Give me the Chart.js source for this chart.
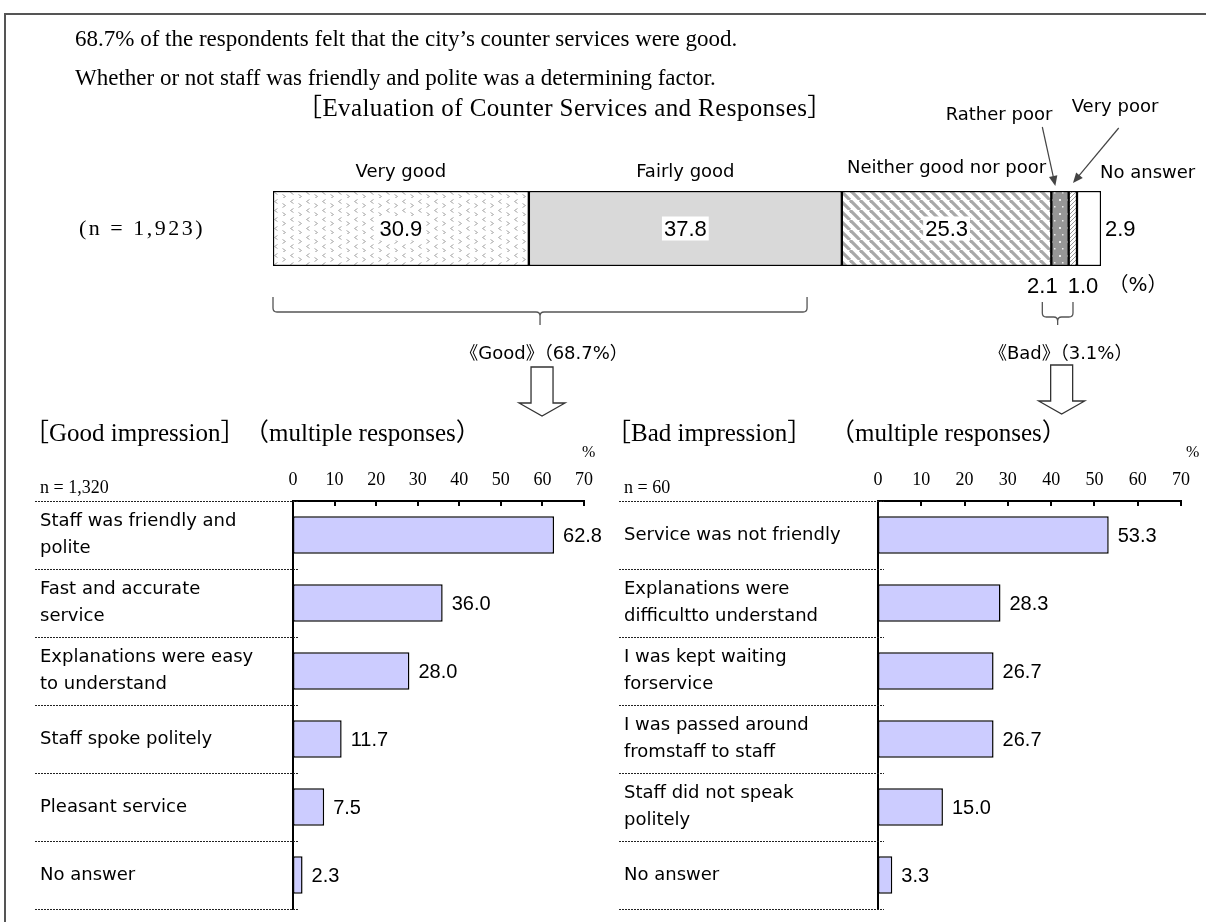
<!DOCTYPE html>
<html>
<head>
<meta charset="utf-8">
<script src="https://cdn.jsdelivr.net/npm/chart.js@4.4.1/dist/chart.umd.min.js"></script>
<style>
  body { margin: 0; background: #fff; }
  #page { position: relative; width: 1206px; height: 922px; overflow: hidden; background: #fff; }
  .txt { position: absolute; white-space: nowrap; line-height: 1; color: #000;
         font-family: 'Liberation Serif', 'Times New Roman', 'Noto Sans CJK JP', serif; }
  canvas { position: absolute; }
</style>
</head>
<body>
<div id="page">
  <div style="position:absolute;left:4px;top:13px;width:1210px;height:920px;border-left:2px solid #555;border-top:2px solid #555"></div>

  <canvas id="topChart" width="1206" height="430" style="left:0;top:0"></canvas>
  <canvas id="goodChart" width="603" height="482" style="left:0;top:440px"></canvas>
  <canvas id="badChart" width="603" height="482" style="left:603px;top:440px"></canvas>

  <div class="txt" style="left:75px;top:27px;font-size:23px">68.7% of the respondents felt that the city’s counter services were good.</div>
  <div class="txt" style="left:75px;top:66px;font-size:23px">Whether or not staff was friendly and polite was a determining factor.</div>
  <div class="txt" style="left:297px;top:95px;font-size:25px;letter-spacing:0.4px">［Evaluation of Counter Services and Responses］</div>
  <div class="txt" style="left:79px;top:217px;font-size:22px;letter-spacing:2.5px">(n = 1,923)</div>

  <div class="txt" style="left:24px;top:420px;font-size:25px">［Good impression］</div>
  <div class="txt" style="left:244px;top:420px;font-size:25px">（multiple responses）</div>
  <div class="txt" style="left:582px;top:444px;font-size:16px">%</div>
  <div class="txt" style="left:606px;top:420px;font-size:25px">［Bad impression］</div>
  <div class="txt" style="left:830px;top:420px;font-size:25px">（multiple responses）</div>
  <div class="txt" style="left:1186px;top:444px;font-size:16px">%</div>
</div>

<script>
    // overall evaluation (n = 1,923)
    var ratingLabels = ['Very good', 'Fairly good', 'Neither good nor poor', 'Rather poor', 'Very poor', 'No answer'];
    var ratingValues = [30.9, 37.8, 25.3, 2.1, 1.0, 2.9];

    // good impression (n = 1,320)
    var goodLabels = [['Staff was friendly and', 'polite'], ['Fast and accurate', 'service'], ['Explanations were easy', 'to understand'], 'Staff spoke politely', 'Pleasant service', 'No answer'];
    var goodValues = [62.8, 36.0, 28.0, 11.7, 7.5, 2.3];

    // bad impression (n = 60)
    var badLabels = ['Service was not friendly', ['Explanations were', 'difficultto understand'], ['I was kept waiting', 'forservice'], ['I was passed around', 'fromstaff to staff'], ['Staff did not speak', 'politely'], 'No answer'];
    var badValues = [53.3, 28.3, 26.7, 26.7, 15.0, 3.3];

    var axisMax = 70;
    var axisStep = 10;

    var SANS = '"DejaVu Sans", "Noto Sans CJK JP", sans-serif';
    var NUM = '"Liberation Sans", Arial, sans-serif';
    var SERIF = '"Liberation Serif", "Times New Roman", serif';

    Chart.defaults.color = '#000';

    // --- fill patterns for the stacked bar ---
    function makePattern(w, h, draw) {
        var c = document.createElement('canvas');
        c.width = w; c.height = h;
        var g = c.getContext('2d');
        draw(g, w, h);
        return document.getElementById('topChart').getContext('2d').createPattern(c, 'repeat');
    }

    var chevrons = makePattern(16, 18, function (g) {
        g.fillStyle = '#fff'; g.fillRect(0, 0, 16, 18);
        g.strokeStyle = '#aaa'; g.lineWidth = 1;
        function lt(x, y) { g.beginPath(); g.moveTo(x + 3, y); g.lineTo(x, y + 2); g.lineTo(x + 3, y + 4); g.stroke(); }
        function gt(x, y) { g.beginPath(); g.moveTo(x, y); g.lineTo(x + 3, y + 2); g.lineTo(x, y + 4); g.stroke(); }
        lt(2.5, 1.5); gt(10.5, 5.5); lt(2.5, 10.5); gt(10.5, 14.5);
    });
    var stripes = makePattern(10, 10, function (g) {
        g.fillStyle = '#fff'; g.fillRect(0, 0, 10, 10);
        g.strokeStyle = '#a8a8a8'; g.lineWidth = 3.2;
        [-10, 0, 10].forEach(function (o) {
            g.beginPath(); g.moveTo(o, 0); g.lineTo(o + 10, 10); g.stroke();
        });
    });
    var dots = makePattern(8, 14, function (g) {
        g.fillStyle = '#969696'; g.fillRect(0, 0, 8, 14);
        g.fillStyle = '#eee';
        g.fillRect(3, 3, 2, 2);
        g.fillRect(6, 10, 1.5, 1.5);
    });
    var fineHatch = makePattern(4, 4, function (g) {
        g.fillStyle = '#fff'; g.fillRect(0, 0, 4, 4);
        g.strokeStyle = '#999'; g.lineWidth = 1;
        [-4, 0, 4].forEach(function (o) {
            g.beginPath(); g.moveTo(o, 4); g.lineTo(o + 4, 0); g.stroke();
        });
    });
    var ratingFills = [chevrons, '#d9d9d9', stripes, dots, fineHatch, '#ffffff'];

    function arrowLine(ctx, x1, y1, x2, y2) {
        var a = Math.atan2(y2 - y1, x2 - x1), s = 11;
        ctx.beginPath(); ctx.moveTo(x1, y1); ctx.lineTo(x2 - Math.cos(a) * s * 0.8, y2 - Math.sin(a) * s * 0.8); ctx.stroke();
        ctx.beginPath();
        ctx.moveTo(x2, y2);
        ctx.lineTo(x2 - s * Math.cos(a - 0.4), y2 - s * Math.sin(a - 0.4));
        ctx.lineTo(x2 - s * Math.cos(a + 0.4), y2 - s * Math.sin(a + 0.4));
        ctx.closePath(); ctx.fill();
    }

    function brace(ctx, x1, x2, yTop, yLine, yTip) {
        var cx = (x1 + x2) / 2, r = 4;
        ctx.beginPath();
        ctx.moveTo(x1, yTop);
        ctx.lineTo(x1, yLine - r);
        ctx.quadraticCurveTo(x1, yLine, x1 + r, yLine);
        ctx.lineTo(cx - r, yLine);
        ctx.quadraticCurveTo(cx, yLine, cx, yLine + r);
        ctx.lineTo(cx, yTip);
        ctx.moveTo(cx, yLine + r);
        ctx.quadraticCurveTo(cx, yLine, cx + r, yLine);
        ctx.lineTo(x2 - r, yLine);
        ctx.quadraticCurveTo(x2, yLine, x2, yLine - r);
        ctx.lineTo(x2, yTop);
        ctx.stroke();
    }

    function hollowArrow(ctx, cx, yTop, yHead, yTip) {
        ctx.beginPath();
        ctx.moveTo(cx - 11, yTop); ctx.lineTo(cx + 11, yTop); ctx.lineTo(cx + 11, yHead);
        ctx.lineTo(cx + 23, yHead); ctx.lineTo(cx, yTip); ctx.lineTo(cx - 23, yHead);
        ctx.lineTo(cx - 11, yHead); ctx.closePath();
        ctx.fillStyle = '#fff'; ctx.fill(); ctx.stroke();
    }

    // labels, arrows and braces around the stacked bar
    var topDecor = {
        id: 'topDecor',
        afterDraw: function (chart) {
            var ctx = chart.ctx, xs = chart.scales.x, area = chart.chartArea;
            var cum = [0];
            ratingValues.forEach(function (v) { cum.push(cum[cum.length - 1] + v); });
            var edge = cum.map(function (v) { return xs.getPixelForValue(v); });
            var midY = (area.top + area.bottom) / 2;
            var top = area.top, bottom = area.bottom;

            ctx.save();
            ctx.textBaseline = 'middle';

            // values in the three big segments
            ctx.font = '22px ' + NUM;
            ctx.textAlign = 'center';
            [0, 1, 2].forEach(function (i) {
                var cx = (edge[i] + edge[i + 1]) / 2, t = ratingValues[i].toFixed(1);
                var w = ctx.measureText(t).width;
                ctx.fillStyle = '#fff';
                ctx.fillRect(cx - w / 2 - 2, midY - 12, w + 4, 24);
                ctx.fillStyle = '#000';
                ctx.fillText(t, cx, midY + 1);
            });
            ctx.textAlign = 'left';
            ctx.fillText(ratingValues[5].toFixed(1), edge[6] + 4, midY + 1);
            ctx.textAlign = 'center';
            ctx.fillText(ratingValues[3].toFixed(1), edge[3] - 9, bottom + 21);
            ctx.fillText(ratingValues[4].toFixed(1), edge[5] + 6, bottom + 21);
            ctx.font = '20px ' + SANS;
            ctx.fillText('（%）', edge[6] + 37, bottom + 20);

            // category names
            ctx.font = '18px ' + SANS;
            ctx.fillText(ratingLabels[0], (edge[0] + edge[1]) / 2, top - 19);
            ctx.fillText(ratingLabels[1], (edge[1] + edge[2]) / 2, top - 19);
            ctx.fillText(ratingLabels[2], (edge[2] + edge[3]) / 2, top - 23);
            ctx.textAlign = 'left';
            ctx.fillText(ratingLabels[5], edge[6] - 1, top - 18);
            ctx.textAlign = 'right';
            ctx.fillText(ratingLabels[3], edge[3] + 1, top - 76);
            ctx.textAlign = 'left';
            ctx.fillText(ratingLabels[4], edge[4] + 3, top - 84);

            ctx.strokeStyle = '#444'; ctx.fillStyle = '#444'; ctx.lineWidth = 1.2;
            arrowLine(ctx, edge[3] - 9, top - 64, edge[3] + 4, top - 5);
            arrowLine(ctx, edge[4] + 50, top - 63, edge[5] - 4, top - 8);

            // braces
            ctx.strokeStyle = '#555'; ctx.lineWidth = 1.3;
            brace(ctx, edge[0], xs.getPixelForValue(64.5), bottom + 31, bottom + 46, bottom + 59);
            brace(ctx, edge[3] - 9, edge[5] - 4, bottom + 36, bottom + 51, bottom + 59);

            var goodX = (edge[0] + xs.getPixelForValue(64.5)) / 2;
            var badX = (edge[3] - 9 + edge[5] - 4) / 2;
            var goodShare = (ratingValues[0] + ratingValues[1]).toFixed(1);
            var badShare = (ratingValues[3] + ratingValues[4]).toFixed(1);
            ctx.fillStyle = '#000';
            ctx.textAlign = 'center';
            ctx.font = '18px ' + SANS;
            ctx.fillText('《Good》（' + goodShare + '%）', goodX + 4, bottom + 88);
            ctx.fillText('《Bad》（' + badShare + '%）', badX + 3, bottom + 88);

            // hollow arrows down to the detail charts
            ctx.strokeStyle = '#333'; ctx.lineWidth = 1.3;
            hollowArrow(ctx, goodX + 2, bottom + 101, bottom + 137, bottom + 150);
            hollowArrow(ctx, badX + 4, bottom + 99, bottom + 135, bottom + 148);
            ctx.restore();
        }
    };

    new Chart(document.getElementById('topChart').getContext('2d'), {
        type: 'bar',
        data: {
            labels: ['n = 1,923'],
            datasets: ratingLabels.map(function (lab, i) {
                return {
                    label: lab,
                    data: [ratingValues[i]],
                    backgroundColor: ratingFills[i],
                    borderColor: '#000',
                    borderWidth: 1.5,
                    borderSkipped: false,
                    barPercentage: 1,
                    categoryPercentage: 1
                };
            })
        },
        options: {
            indexAxis: 'y',
            responsive: false,
            animation: false,
            layout: { padding: { left: 273, right: 105, top: 191, bottom: 164 } },
            plugins: { legend: { display: false }, tooltip: { enabled: false } },
            scales: {
                x: { stacked: true, min: 0, max: 100, display: false },
                y: { stacked: true, display: false }
            }
        },
        plugins: [topDecor]
    });

    // dotted row lines, inward ticks, n label and value labels
    var rowDecor = {
        id: 'rowDecor',
        afterDraw: function (chart, args, opts) {
            var ctx = chart.ctx, xs = chart.scales.x, ys = chart.scales.y, area = chart.chartArea;
            var n = chart.data.labels.length;
            var step = ys.getPixelForValue(1) - ys.getPixelForValue(0);
            ctx.save();
            ctx.strokeStyle = '#000'; ctx.lineWidth = 2;
            xs.ticks.forEach(function (t) {
                var x = Math.round(xs.getPixelForValue(t.value));
                ctx.beginPath(); ctx.moveTo(x, area.top); ctx.lineTo(x, area.top + 5); ctx.stroke();
            });
            ctx.lineWidth = 1; ctx.strokeStyle = '#222'; ctx.setLineDash([2, 1]);
            for (var i = 0; i <= n; i++) {
                var y = Math.round(ys.getPixelForValue(i) - step / 2) + 0.5;
                ctx.beginPath(); ctx.moveTo(ys.left - 5, y); ctx.lineTo(area.left + 6, y); ctx.stroke();
            }
            ctx.setLineDash([]);
            ctx.fillStyle = '#000';
            ctx.font = '18px ' + SERIF;
            ctx.textAlign = 'left'; ctx.textBaseline = 'alphabetic';
            ctx.fillText(opts.nLabel, ys.left, area.top - 8);
            ctx.font = '20px ' + NUM;
            ctx.textBaseline = 'middle';
            var vals = chart.data.datasets[0].data;
            chart.getDatasetMeta(0).data.forEach(function (bar, i) {
                ctx.fillText(vals[i].toFixed(1), bar.x + 9, bar.y + 1);
            });
            ctx.restore();
        }
    };

    function detailChart(id, labels, values, nLabel, padLeft, labelWidth, padRight) {
        return new Chart(document.getElementById(id).getContext('2d'), {
            type: 'bar',
            data: {
                labels: labels,
                datasets: [{
                    data: values,
                    backgroundColor: '#ccccff',
                    borderColor: '#000',
                    borderWidth: 1.5,
                    borderSkipped: false,
                    barPercentage: 0.55,
                    categoryPercentage: 1
                }]
            },
            options: {
                indexAxis: 'y',
                responsive: false,
                animation: false,
                layout: { padding: { left: padLeft, right: padRight, top: 16, bottom: 13 } },
                plugins: { legend: { display: false }, tooltip: { enabled: false }, rowDecor: { nLabel: nLabel } },
                scales: {
                    x: {
                        position: 'top',
                        min: 0, max: axisMax,
                        grid: { display: false, drawTicks: false },
                        border: { display: true, color: '#000', width: 2 },
                        ticks: { stepSize: axisStep, padding: 10, color: '#000', font: { family: SERIF, size: 18 } },
                        afterFit: function (s) { s.height = 45; }
                    },
                    y: {
                        grid: { display: false, drawTicks: false },
                        border: { display: true, color: '#000', width: 2 },
                        ticks: { autoSkip: false, crossAlign: 'far', color: '#000', font: { family: SANS, size: 18, lineHeight: 1.5 } },
                        afterFit: function (s) { s.width = labelWidth; s.paddingTop = 0; s.paddingBottom = 0; }
                    }
                }
            },
            plugins: [rowDecor]
        });
    }

    detailChart('goodChart', goodLabels, goodValues, 'n = 1,320', 40, 253, 5);
    detailChart('badChart', badLabels, badValues, 'n = 60', 21, 254, 25);
</script>
</body>
</html>
